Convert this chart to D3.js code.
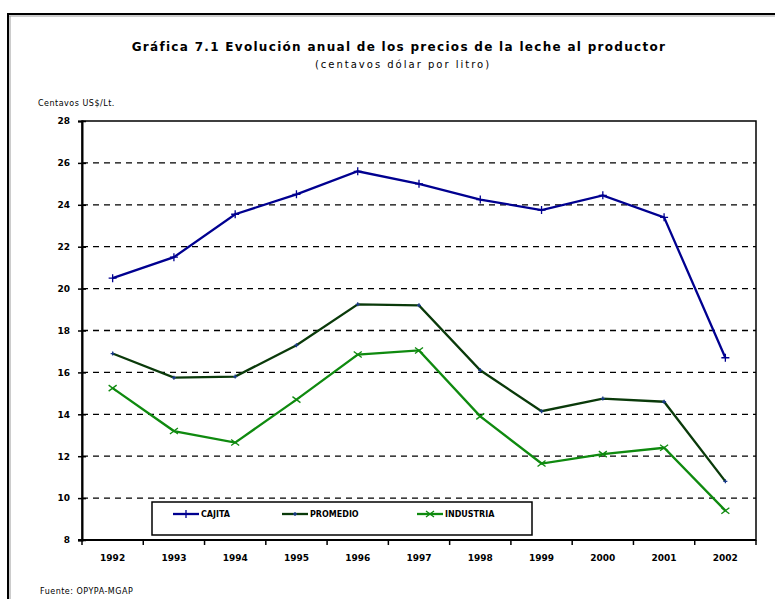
<!DOCTYPE html>
<html>
<head>
<meta charset="utf-8">
<script src="https://cdnjs.cloudflare.com/ajax/libs/d3/7.8.5/d3.min.js"></script>
<style>
  body { margin: 0; background: #fff; }
  text { font-family: "DejaVu Sans", Verdana, sans-serif; }
</style>
</head>
<body>
<div id="chart"></div>
<script>
// años y series (centavos US$ por litro)
var years = ["1992","1993","1994","1995","1996","1997","1998","1999","2000","2001","2002"];
var cajita    = [20.5, 21.5, 23.55, 24.5, 25.6, 25.0, 24.25, 23.75, 24.45, 23.4, 16.7];
var promedio  = [16.9, 15.75, 15.8, 17.3, 19.25, 19.2, 16.1, 14.15, 14.75, 14.6, 10.8];
var industria = [15.25, 13.2, 12.65, 14.7, 16.85, 17.05, 13.9, 11.65, 12.1, 12.4, 9.4];
var yTicks = [8, 10, 12, 14, 16, 18, 20, 22, 24, 26, 28];
var seriesNames = ["CAJITA", "PROMEDIO", "INDUSTRIA"];
var seriesColors = ["#000090", "#0a3a0a", "#0f8a0f"];

var W = 775, H = 599;
var svg = d3.select("#chart").append("svg")
    .attr("width", W).attr("height", H);

// marco exterior
svg.append("line").attr("x1", 8).attr("x2", W).attr("y1", 14).attr("y2", 14)
    .attr("stroke", "#000").attr("stroke-width", 2);
svg.append("line").attr("x1", 8).attr("x2", W).attr("y1", 16).attr("y2", 16)
    .attr("stroke", "#999").attr("stroke-width", 1);
svg.append("line").attr("x1", 8).attr("x2", 8).attr("y1", 13).attr("y2", H)
    .attr("stroke", "#000").attr("stroke-width", 2);
svg.append("line").attr("x1", 10).attr("x2", 10).attr("y1", 16).attr("y2", H)
    .attr("stroke", "#999").attr("stroke-width", 1);

var pLeft = 82, pRight = 756, pTop = 121, pBottom = 540;

var x = d3.scaleBand().domain(years).range([pLeft, pRight]);
var y = d3.scaleLinear().domain([8, 28]).range([pBottom, pTop]);

// titulos
svg.append("text").attr("x", 399).attr("y", 51).attr("text-anchor", "middle")
    .style("font-size", "12px").style("font-weight", "bold")
    .style("letter-spacing", "1.3px")
    .text("Gráfica 7.1 Evolución anual de los precios de la leche al productor");
svg.append("text").attr("x", 403).attr("y", 68).attr("text-anchor", "middle")
    .style("font-size", "10px").style("letter-spacing", "2px")
    .text("(centavos dólar por litro)");
svg.append("text").attr("x", 38).attr("y", 106)
    .style("font-size", "8px").style("letter-spacing", "0.5px")
    .text("Centavos US$/Lt.");
svg.append("text").attr("x", 40).attr("y", 594)
    .style("font-size", "8px").style("letter-spacing", "0.5px")
    .text("Fuente: OPYPA-MGAP");

// lineas de grilla punteadas
svg.append("g").selectAll("line")
    .data(yTicks.filter(function(d) { return d > 8 && d < 28; }))
    .enter().append("line")
    .attr("x1", pLeft).attr("x2", pRight)
    .attr("y1", function(d) { return y(d); })
    .attr("y2", function(d) { return y(d); })
    .attr("stroke", "#000").attr("stroke-width", 1.3)
    .attr("stroke-dasharray", "6,5");

// caja del area
svg.append("rect").attr("x", pLeft).attr("y", pTop)
    .attr("width", pRight - pLeft).attr("height", pBottom - pTop)
    .attr("fill", "none").attr("stroke", "#000").attr("stroke-width", 1.5);

// eje y
var yAxis = svg.append("g").attr("transform", "translate(" + pLeft + ",0)")
    .call(d3.axisLeft(y).tickValues(yTicks).tickSize(4).tickPadding(8));
yAxis.select(".domain").attr("stroke-width", 2);
yAxis.selectAll(".tick line").attr("x2", 4).attr("x1", -4).attr("stroke-width", 1.5);
yAxis.selectAll("text").style("font-size", "9px").style("font-weight", "bold")
    .style("font-family", "'DejaVu Sans', sans-serif");

// eje x: marcas en los limites de categoria
var bounds = years.map(function(d) { return x(d); }).concat([pRight]);
svg.append("g").selectAll("line").data(bounds).enter().append("line")
    .attr("x1", function(d) { return d; }).attr("x2", function(d) { return d; })
    .attr("y1", pBottom).attr("y2", pBottom + 5)
    .attr("stroke", "#000").attr("stroke-width", 1.5);
svg.append("line").attr("x1", pLeft - 4).attr("x2", pRight)
    .attr("y1", pBottom).attr("y2", pBottom).attr("stroke", "#000").attr("stroke-width", 2);
svg.append("g").selectAll("text").data(years).enter().append("text")
    .attr("x", function(d) { return x(d) + x.bandwidth() / 2; })
    .attr("y", 561).attr("text-anchor", "middle")
    .style("font-size", "9px").style("font-weight", "bold")
    .text(function(d) { return d; });

// marcadores
var markerPaths = ["M-4,0H4M0,-4V4", "M-2,0H2M0,-2V2", "M-4,-3L4,3M-4,3L4,-3"];
var markerColors = [seriesColors[0], "#1a3a8a", seriesColors[2]];

// series
var allSeries = [cajita, promedio, industria];
var line = d3.line()
    .x(function(d, i) { return x(years[i]) + x.bandwidth() / 2; })
    .y(function(d) { return y(d); });

allSeries.forEach(function(vals, s) {
    var col = seriesColors[s];
    svg.append("path").datum(vals)
        .attr("d", line).attr("fill", "none")
        .attr("stroke", col).attr("stroke-width", 2.3);
    svg.append("g").selectAll("path").data(vals).enter().append("path")
        .attr("transform", function(d, i) {
            return "translate(" + (x(years[i]) + x.bandwidth() / 2) + "," + y(d) + ")";
        })
        .attr("d", markerPaths[s])
        .attr("fill", "none").attr("stroke", markerColors[s]).attr("stroke-width", 1.3);
});

// leyenda
var lg = svg.append("g");
lg.append("rect").attr("x", 152).attr("y", 502).attr("width", 380).attr("height", 33)
    .attr("fill", "#fff").attr("stroke", "#000").attr("stroke-width", 1.5);
var legX = [173, 282, 417];
seriesNames.forEach(function(n, s) {
    lg.append("line").attr("x1", legX[s]).attr("x2", legX[s] + 26)
        .attr("y1", 514).attr("y2", 514)
        .attr("stroke", seriesColors[s]).attr("stroke-width", 2.3);
    lg.append("path").attr("transform", "translate(" + (legX[s] + 13) + ",514)")
        .attr("d", markerPaths[s]).attr("fill", "none")
        .attr("stroke", markerColors[s]).attr("stroke-width", 1.3);
    lg.append("text").attr("x", legX[s] + 28).attr("y", 517)
        .style("font-size", "8px").style("font-weight", "bold")
        .text(n);
});
</script>
</body>
</html>
